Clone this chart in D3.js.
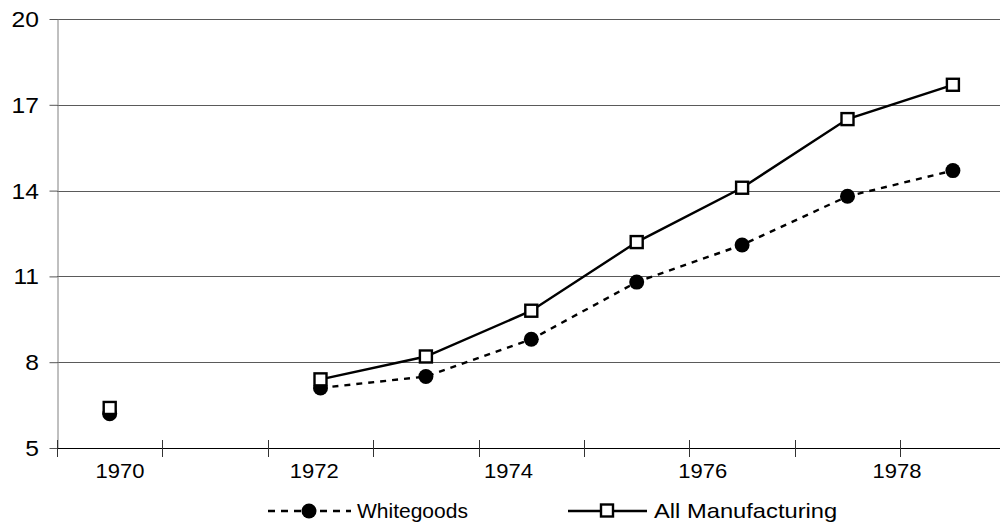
<!DOCTYPE html>
<html>
<head>
<meta charset="utf-8">
<script src="https://cdn.jsdelivr.net/npm/d3@7"></script>
<style>
  html, body { margin: 0; padding: 0; background: #fff; }
  svg { display: block; font-family: "Liberation Sans", Arial, sans-serif; }
</style>
</head>
<body>
<svg id="chart" width="1000" height="524"></svg>
<script>
// Survey periods (index 0..8); period 1 has no observation
const periods = [0, 1, 2, 3, 4, 5, 6, 7, 8];
const whitegoods = [6.2, null, 7.1, 7.5, 8.8, 10.8, 12.1, 13.8, 14.7];
const allManufacturing = [6.4, null, 7.4, 8.2, 9.8, 12.2, 14.1, 16.5, 17.7];
const yTicks = [5, 8, 11, 14, 17, 20];
const yearLabels = [1970, 1972, 1974, 1976, 1978];
const seriesNames = ["Whitegoods", "All Manufacturing"];

const svg = d3.select("#chart");
const plotLeft = 57, plotRight = 1005.6, plotTop = 19, plotBottom = 448;

const x = d3.scaleBand().domain(periods).range([plotLeft, plotRight]).padding(0);
const xc = p => x(p) + x.bandwidth() / 2;
const yearX = d3.scaleLinear().domain([1970, 1978]).range([120, 897]);
const y = d3.scaleLinear().domain([5, 20]).range([plotBottom, plotTop]);

// horizontal gridlines
svg.append("g").selectAll("line")
  .data(yTicks.filter(v => v > 5))
  .join("line")
  .attr("x1", plotLeft).attr("x2", plotRight)
  .attr("y1", d => Math.round(y(d)) + 0.5).attr("y2", d => Math.round(y(d)) + 0.5)
  .attr("stroke", "#5a5a5a").attr("stroke-width", 1);

// y axis
const yAxis = d3.axisLeft(y).tickValues(yTicks).tickSize(8).tickSizeOuter(0).tickFormat("");
const gy = svg.append("g").attr("transform", `translate(${plotLeft + 0.5},0)`).call(yAxis);
gy.select(".domain").attr("stroke", "#808080");
gy.selectAll(".tick line").attr("stroke", "#555");

// y tick labels, slightly widened
svg.append("g").selectAll("text")
  .data(yTicks)
  .join("text")
  .attr("transform", d => `translate(39,${y(d)}) scale(1.12,1)`)
  .attr("dy", "0.36em").attr("text-anchor", "end").attr("font-size", 22)
  .text(d => d);

// x axis line and period boundary ticks
svg.append("line").attr("x1", plotLeft).attr("x2", plotRight)
  .attr("y1", plotBottom + 0.5).attr("y2", plotBottom + 0.5).attr("stroke", "#000");
svg.append("g").selectAll("line")
  .data(periods)
  .join("line")
  .attr("x1", d => Math.round(x(d)) + 0.5).attr("x2", d => Math.round(x(d)) + 0.5)
  .attr("y1", plotBottom - 8).attr("y2", plotBottom + 9)
  .attr("stroke", "#333");

// year labels
svg.append("g").selectAll("text")
  .data(yearLabels)
  .join("text")
  .attr("transform", d => `translate(${yearX(d)},478) scale(1.1,1)`)
  .attr("text-anchor", "middle").attr("font-size", 20)
  .text(d => d);

const line = d3.line()
  .defined(d => d.v !== null)
  .x(d => xc(d.p)).y(d => y(d.v));

const wData = periods.map((p, i) => ({ p, v: whitegoods[i] }));
const mData = periods.map((p, i) => ({ p, v: allManufacturing[i] }));

// Whitegoods: dashed line with filled circles
svg.append("path").datum(wData)
  .attr("d", line).attr("fill", "none")
  .attr("stroke", "#000").attr("stroke-width", 2.4).attr("stroke-dasharray", "6,6");
svg.append("g").selectAll("circle")
  .data(wData.filter(d => d.v !== null))
  .join("circle")
  .attr("cx", d => xc(d.p)).attr("cy", d => y(d.v)).attr("r", 7.5)
  .attr("fill", "#000");

// All Manufacturing: solid line with open squares
svg.append("path").datum(mData)
  .attr("d", line).attr("fill", "none")
  .attr("stroke", "#000").attr("stroke-width", 2.4);
const sq = 12;
svg.append("g").selectAll("rect")
  .data(mData.filter(d => d.v !== null))
  .join("rect")
  .attr("x", d => xc(d.p) - sq / 2).attr("y", d => y(d.v) - sq / 2)
  .attr("width", sq).attr("height", sq)
  .attr("fill", "#fff").attr("stroke", "#000").attr("stroke-width", 2.4);

// legend
const legend = svg.append("g");
const ly = 511;
const lw = legend.append("g");
lw.append("line").attr("x1", 268).attr("x2", 351).attr("y1", ly).attr("y2", ly)
  .attr("stroke", "#000").attr("stroke-width", 2.4).attr("stroke-dasharray", "7,6");
lw.append("circle").attr("cx", 309).attr("cy", ly).attr("r", 7.5).attr("fill", "#000");
lw.append("text").attr("x", 357).attr("y", 518).attr("font-size", 21).text(seriesNames[0]);

const lm = legend.append("g");
lm.append("line").attr("x1", 568).attr("x2", 647).attr("y1", ly).attr("y2", ly)
  .attr("stroke", "#000").attr("stroke-width", 2.4);
lm.append("rect").attr("x", 601).attr("y", ly - 6.5).attr("width", 12).attr("height", 12)
  .attr("fill", "#fff").attr("stroke", "#000").attr("stroke-width", 2.4);
lm.append("text").attr("transform", "translate(654,518) scale(1.13,1)")
  .attr("font-size", 21).text(seriesNames[1]);
</script>
</body>
</html>
